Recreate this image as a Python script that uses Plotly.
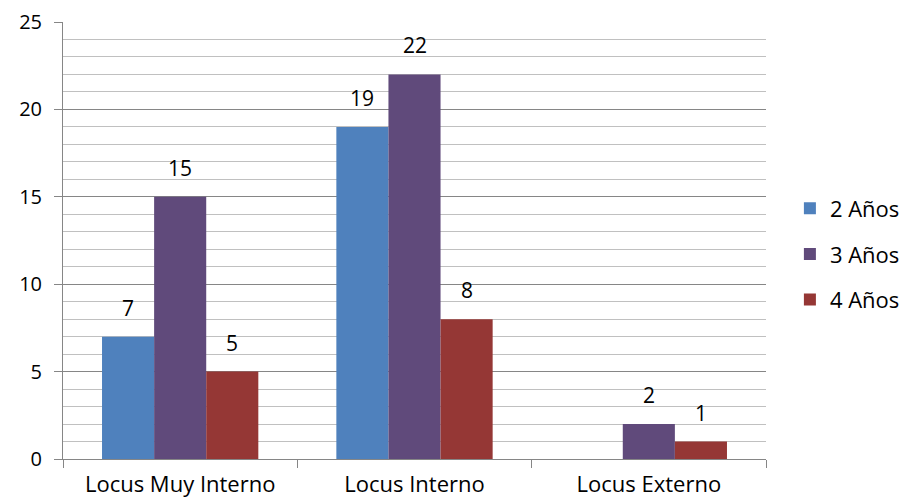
import plotly.graph_objects as go

categories = ["Locus Muy Interno", "Locus Interno", "Locus Externo"]
series_names = ["2 Años", "3 Años", "4 Años"]
values_2 = [7, 19, None]
values_3 = [15, 22, 2]
values_4 = [5, 8, 1]
colors = ["#4F81BD", "#604A7B", "#953735"]
y_ticks = [0, 5, 10, 15, 20, 25]

FONT = "Open Sans, Lato, sans-serif"
BARGAP = 0.333

fig = go.Figure()
all_series = [values_2, values_3, values_4]
for i, (name, vals, col) in enumerate(zip(series_names, all_series, colors)):
    fig.add_trace(go.Bar(
        x=list(range(len(categories))), y=vals, name=name,
        marker=dict(color=col, line=dict(width=0)),
        legendgroup=f"g{i}",
    ))

# value labels above each bar
bar_w = (1 - BARGAP) / len(all_series)
for k, vals in enumerate(all_series):
    for i, v in enumerate(vals):
        if v is None:
            continue
        fig.add_annotation(
            x=i + (k - 1) * bar_w, y=v, xref="x", yref="y",
            text=str(v), showarrow=False, yanchor="middle", yshift=29,
            font=dict(family=FONT, size=21, color="#000000"),
        )

fig.update_layout(
    width=906, height=500,
    margin=dict(l=63, r=140, t=22, b=41, autoexpand=False),
    paper_bgcolor="white", plot_bgcolor="white",
    barmode="group", bargap=BARGAP, bargroupgap=0,
    font=dict(family=FONT, size=21, color="#000000"),
    legend=dict(x=1.034, y=0.469, xanchor="left", yanchor="middle",
                xref="paper", yref="paper", tracegroupgap=14,
                font=dict(family=FONT, size=22), itemwidth=30),
    showlegend=True,
)
fig.update_yaxes(
    range=[0, 25], tickvals=y_ticks, showgrid=True, gridcolor="#868686", gridwidth=1,
    showline=True, linecolor="#868686", linewidth=1, automargin=False,
    ticks="outside", ticklen=8, tickcolor="#868686", ticklabelstandoff=8,
    tickfont=dict(family=FONT, size=20), zeroline=False,
    minor=dict(dtick=1, showgrid=True, gridcolor="#C0C0C0", gridwidth=1, ticks=""),
)
fig.update_xaxes(
    range=[-0.5, len(categories) - 0.5],
    tickvals=list(range(len(categories))), ticktext=categories,
    showline=True, linecolor="#868686", linewidth=1, automargin=False,
    ticks="", showgrid=False, ticklabelstandoff=6,
    tickfont=dict(family=FONT, size=22),
)
# category boundary tick marks on the x axis
fig.update_xaxes(minor=dict(tickvals=[-0.5, 0.5, 1.5, 2.5], ticks="outside",
                            ticklen=8, tickcolor="#868686", showgrid=False))

fig.write_html("out.html")
